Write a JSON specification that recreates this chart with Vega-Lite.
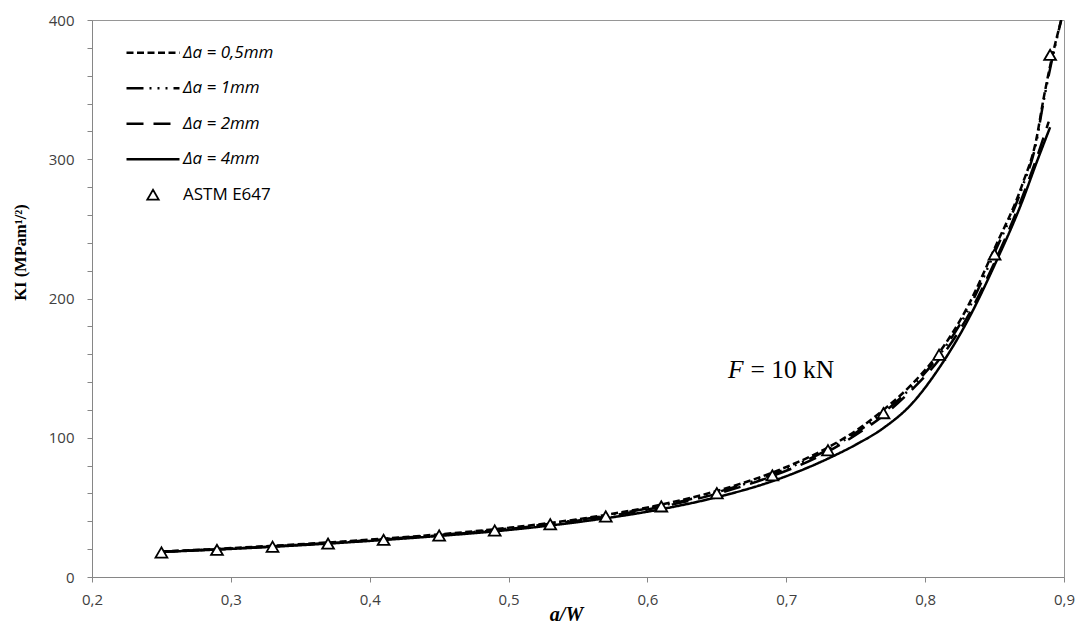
{
  "$schema": "https://vega.github.io/schema/vega-lite/v6.json",
  "width": 972,
  "height": 557,
  "autosize": "none",
  "padding": {"left": 92, "top": 20, "right": 15, "bottom": 46},
  "background": "white",
  "config": {
    "view": {"stroke": "#969696", "strokeWidth": 1},
    "axis": {
      "domainColor": "#868686",
      "tickColor": "#868686",
      "grid": false,
      "labelFont": "Open Sans",
      "labelFontSize": 15,
      "labelColor": "#404040",
      "titleFont": "Liberation Serif",
      "titleColor": "#000000"
    }
  },
  "encoding": {
    "x": {
      "field": "aW",
      "type": "quantitative",
      "scale": {"domain": [0.2, 0.9], "nice": false, "zero": false},
      "axis": {
        "values": [0.2, 0.3, 0.4, 0.5, 0.6, 0.7, 0.8, 0.9],
        "labelExpr": "replace(format(datum.value, '.1f'), '.', ',')",
        "labelFlush": false,
        "labelOverlap": false,
        "tickSize": 5,
        "labelPadding": 10,
        "title": "a/W",
        "titleFontSize": 20,
        "titleFontWeight": "bold",
        "titleFontStyle": "italic",
        "titleX": 474,
        "titleY": 43,
        "titleAlign": "center",
        "titleBaseline": "alphabetic"
      }
    },
    "y": {
      "field": "K",
      "type": "quantitative",
      "scale": {"domain": [0, 400], "nice": false},
      "axis": {
        "values": [0, 20, 40, 60, 80, 100, 120, 140, 160, 180, 200, 220, 240, 260, 280, 300, 320, 340, 360, 380, 400],
        "labelExpr": "datum.value % 100 === 0 ? format(datum.value, 'd') : ''",
        "labelOverlap": false,
        "tickSize": 5,
        "labelPadding": 13,
        "title": "KI (MPam¹/²)",
        "titleFontSize": 16.5,
        "titleFontWeight": "bold",
        "titleAngle": -90,
        "titleX": -64,
        "titleY": 232,
        "titleAlign": "center",
        "titleBaseline": "bottom"
      }
    }
  },
  "layer": [
    {
      "data": {
        "values": [
          {"series": "Δa = 0,5mm", "aW": 0.25, "K": 18.3},
          {"series": "Δa = 0,5mm", "aW": 0.29, "K": 20.2},
          {"series": "Δa = 0,5mm", "aW": 0.33, "K": 22.4},
          {"series": "Δa = 0,5mm", "aW": 0.37, "K": 24.8},
          {"series": "Δa = 0,5mm", "aW": 0.41, "K": 27.5},
          {"series": "Δa = 0,5mm", "aW": 0.45, "K": 30.6},
          {"series": "Δa = 0,5mm", "aW": 0.49, "K": 34.3},
          {"series": "Δa = 0,5mm", "aW": 0.53, "K": 38.8},
          {"series": "Δa = 0,5mm", "aW": 0.57, "K": 44.6},
          {"series": "Δa = 0,5mm", "aW": 0.61, "K": 52.0},
          {"series": "Δa = 0,5mm", "aW": 0.65, "K": 61.8},
          {"series": "Δa = 0,5mm", "aW": 0.69, "K": 75.0},
          {"series": "Δa = 0,5mm", "aW": 0.73, "K": 93.0},
          {"series": "Δa = 0,5mm", "aW": 0.75, "K": 105.0},
          {"series": "Δa = 0,5mm", "aW": 0.77, "K": 120.0},
          {"series": "Δa = 0,5mm", "aW": 0.79, "K": 138.0},
          {"series": "Δa = 0,5mm", "aW": 0.81, "K": 161.0},
          {"series": "Δa = 0,5mm", "aW": 0.83, "K": 193.0},
          {"series": "Δa = 0,5mm", "aW": 0.85, "K": 236.0},
          {"series": "Δa = 0,5mm", "aW": 0.87, "K": 282.0},
          {"series": "Δa = 0,5mm", "aW": 0.88, "K": 314.0},
          {"series": "Δa = 0,5mm", "aW": 0.885, "K": 342.0},
          {"series": "Δa = 0,5mm", "aW": 0.89, "K": 367.0},
          {"series": "Δa = 0,5mm", "aW": 0.898, "K": 400.0},
          {"series": "Δa = 1mm", "aW": 0.25, "K": 18.2},
          {"series": "Δa = 1mm", "aW": 0.29, "K": 19.9},
          {"series": "Δa = 1mm", "aW": 0.33, "K": 22.0},
          {"series": "Δa = 1mm", "aW": 0.37, "K": 24.4},
          {"series": "Δa = 1mm", "aW": 0.41, "K": 27.1},
          {"series": "Δa = 1mm", "aW": 0.45, "K": 30.2},
          {"series": "Δa = 1mm", "aW": 0.49, "K": 33.8},
          {"series": "Δa = 1mm", "aW": 0.53, "K": 38.3},
          {"series": "Δa = 1mm", "aW": 0.57, "K": 44.0},
          {"series": "Δa = 1mm", "aW": 0.61, "K": 51.2},
          {"series": "Δa = 1mm", "aW": 0.65, "K": 60.8},
          {"series": "Δa = 1mm", "aW": 0.69, "K": 73.8},
          {"series": "Δa = 1mm", "aW": 0.73, "K": 91.5},
          {"series": "Δa = 1mm", "aW": 0.75, "K": 103.5},
          {"series": "Δa = 1mm", "aW": 0.77, "K": 118.0},
          {"series": "Δa = 1mm", "aW": 0.79, "K": 136.0},
          {"series": "Δa = 1mm", "aW": 0.81, "K": 159.0},
          {"series": "Δa = 1mm", "aW": 0.83, "K": 190.0},
          {"series": "Δa = 1mm", "aW": 0.85, "K": 233.0},
          {"series": "Δa = 1mm", "aW": 0.87, "K": 280.0},
          {"series": "Δa = 1mm", "aW": 0.88, "K": 312.0},
          {"series": "Δa = 1mm", "aW": 0.885, "K": 340.0},
          {"series": "Δa = 1mm", "aW": 0.89, "K": 365.0},
          {"series": "Δa = 1mm", "aW": 0.898, "K": 400.0},
          {"series": "Δa = 2mm", "aW": 0.25, "K": 18.2},
          {"series": "Δa = 2mm", "aW": 0.29, "K": 19.9},
          {"series": "Δa = 2mm", "aW": 0.33, "K": 22.0},
          {"series": "Δa = 2mm", "aW": 0.37, "K": 24.3},
          {"series": "Δa = 2mm", "aW": 0.41, "K": 27.0},
          {"series": "Δa = 2mm", "aW": 0.45, "K": 30.0},
          {"series": "Δa = 2mm", "aW": 0.49, "K": 33.5},
          {"series": "Δa = 2mm", "aW": 0.53, "K": 37.9},
          {"series": "Δa = 2mm", "aW": 0.57, "K": 43.4},
          {"series": "Δa = 2mm", "aW": 0.61, "K": 50.4},
          {"series": "Δa = 2mm", "aW": 0.65, "K": 59.8},
          {"series": "Δa = 2mm", "aW": 0.69, "K": 72.5},
          {"series": "Δa = 2mm", "aW": 0.73, "K": 90.0},
          {"series": "Δa = 2mm", "aW": 0.75, "K": 102.0},
          {"series": "Δa = 2mm", "aW": 0.77, "K": 116.0},
          {"series": "Δa = 2mm", "aW": 0.79, "K": 134.0},
          {"series": "Δa = 2mm", "aW": 0.81, "K": 156.0},
          {"series": "Δa = 2mm", "aW": 0.83, "K": 186.0},
          {"series": "Δa = 2mm", "aW": 0.85, "K": 226.0},
          {"series": "Δa = 2mm", "aW": 0.87, "K": 273.0},
          {"series": "Δa = 2mm", "aW": 0.88, "K": 300.0},
          {"series": "Δa = 2mm", "aW": 0.889, "K": 327.0},
          {"series": "Δa = 4mm", "aW": 0.25, "K": 18.0},
          {"series": "Δa = 4mm", "aW": 0.29, "K": 19.7},
          {"series": "Δa = 4mm", "aW": 0.33, "K": 21.7},
          {"series": "Δa = 4mm", "aW": 0.37, "K": 24.0},
          {"series": "Δa = 4mm", "aW": 0.41, "K": 26.6},
          {"series": "Δa = 4mm", "aW": 0.45, "K": 29.5},
          {"series": "Δa = 4mm", "aW": 0.49, "K": 32.8},
          {"series": "Δa = 4mm", "aW": 0.53, "K": 37.0},
          {"series": "Δa = 4mm", "aW": 0.57, "K": 42.2},
          {"series": "Δa = 4mm", "aW": 0.61, "K": 48.7},
          {"series": "Δa = 4mm", "aW": 0.65, "K": 57.3},
          {"series": "Δa = 4mm", "aW": 0.69, "K": 68.8},
          {"series": "Δa = 4mm", "aW": 0.73, "K": 85.0},
          {"series": "Δa = 4mm", "aW": 0.75, "K": 95.0},
          {"series": "Δa = 4mm", "aW": 0.77, "K": 107.0},
          {"series": "Δa = 4mm", "aW": 0.79, "K": 124.0},
          {"series": "Δa = 4mm", "aW": 0.81, "K": 150.0},
          {"series": "Δa = 4mm", "aW": 0.83, "K": 183.0},
          {"series": "Δa = 4mm", "aW": 0.85, "K": 224.0},
          {"series": "Δa = 4mm", "aW": 0.87, "K": 270.0},
          {"series": "Δa = 4mm", "aW": 0.88, "K": 297.0},
          {"series": "Δa = 4mm", "aW": 0.89, "K": 323.0}
        ]
      },
      "mark": {"type": "line", "color": "black", "strokeWidth": 2.5, "interpolate": "monotone", "clip": true},
      "encoding": {
        "strokeDash": {
          "field": "series",
          "type": "nominal",
          "scale": {
            "domain": ["Δa = 0,5mm", "Δa = 1mm", "Δa = 2mm", "Δa = 4mm", "ASTM E647"],
            "range": [[7, 3.5], [17, 6, 2, 6, 2, 6, 2, 6], [17, 10], [1, 0], [1, 0]]
          },
          "legend": {
            "orient": "none",
            "legendX": 52.5,
            "legendY": 24.2,
            "title": null,
            "padding": 0,
            "rowPadding": 17.5,
            "symbolSize": 1225,
            "symbolType": "stroke",
            "symbolStrokeColor": "black",
            "symbolStrokeWidth": 2.5,
            "labelFont": "Open Sans",
            "labelFontSize": 17,
            "labelColor": "#000000",
            "labelOffset": 21.5,
            "encode": {
              "symbols": {
                "update": {
                  "shape": {"signal": "datum.value === 'ASTM E647' ? 'triangle-up' : 'stroke'"},
                  "size": {"signal": "datum.value === 'ASTM E647' ? 130 : 2809"},
                  "fill": {"value": "white"},
                  "stroke": {"value": "black"},
                  "strokeWidth": {"signal": "datum.value === 'ASTM E647' ? 1.8 : 2.5"}
                }
              },
              "labels": {
                "update": {
                  "fontStyle": {"signal": "datum.value === 'ASTM E647' ? 'normal' : 'italic'"}
                }
              }
            }
          }
        }
      }
    },
    {
      "data": {
        "values": [
          {"series": "ASTM E647", "aW": 0.25, "K": 17.6},
          {"series": "ASTM E647", "aW": 0.29, "K": 19.5},
          {"series": "ASTM E647", "aW": 0.33, "K": 21.7},
          {"series": "ASTM E647", "aW": 0.37, "K": 24.0},
          {"series": "ASTM E647", "aW": 0.41, "K": 26.7},
          {"series": "ASTM E647", "aW": 0.45, "K": 29.8},
          {"series": "ASTM E647", "aW": 0.49, "K": 33.4},
          {"series": "ASTM E647", "aW": 0.53, "K": 37.9},
          {"series": "ASTM E647", "aW": 0.57, "K": 43.5},
          {"series": "ASTM E647", "aW": 0.61, "K": 50.7},
          {"series": "ASTM E647", "aW": 0.65, "K": 60.2},
          {"series": "ASTM E647", "aW": 0.69, "K": 73.0},
          {"series": "ASTM E647", "aW": 0.73, "K": 91.0},
          {"series": "ASTM E647", "aW": 0.77, "K": 117.7},
          {"series": "ASTM E647", "aW": 0.81, "K": 159.6},
          {"series": "ASTM E647", "aW": 0.85, "K": 231.7},
          {"series": "ASTM E647", "aW": 0.89, "K": 375.0}
        ]
      },
      "mark": {"type": "point", "shape": "triangle-up", "size": 140, "filled": true, "fill": "white", "stroke": "black", "strokeWidth": 1.8, "opacity": 1}
    },
    {
      "data": {"values": [{"label": "F", "aW": 0.658, "K": 143}]},
      "mark": {"type": "text", "font": "Liberation Serif", "fontSize": 25.5, "fontStyle": "italic", "fontWeight": "normal", "color": "#000000", "align": "left", "baseline": "alphabetic"},
      "encoding": {
        "text": {"field": "label"}
      }
    },
    {
      "data": {"values": [{"label": "= 10 kN", "aW": 0.6742, "K": 143}]},
      "mark": {"type": "text", "font": "Liberation Serif", "fontSize": 25.5, "fontWeight": "normal", "color": "#000000", "align": "left", "baseline": "alphabetic"},
      "encoding": {
        "text": {"field": "label"}
      }
    }
  ]
}
